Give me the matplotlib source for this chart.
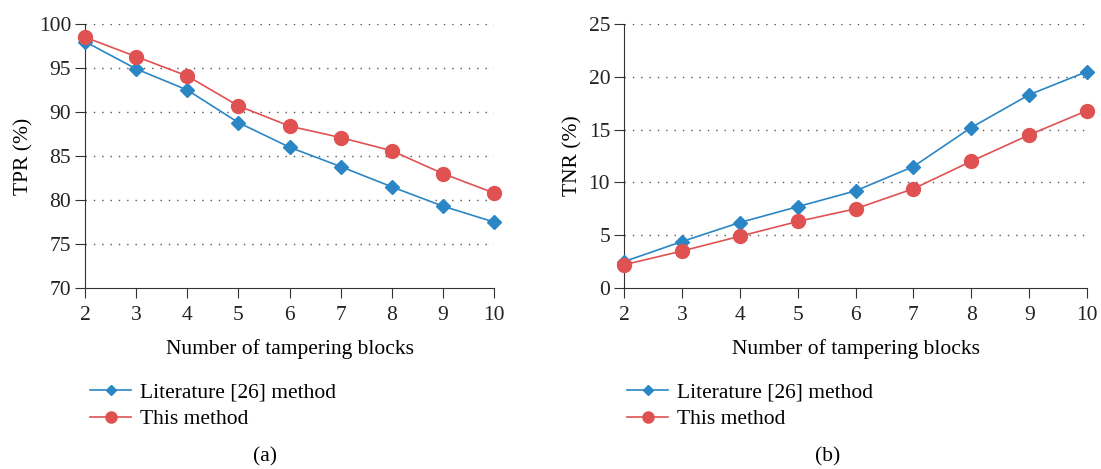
import matplotlib.pyplot as plt
import numpy as np

blocks = [2, 3, 4, 5, 6, 7, 8, 9, 10]

tpr_lit = [98.0, 94.9, 92.5, 88.8, 86.0, 83.8, 81.5, 79.3, 77.5]
tpr_ours = [98.5, 96.3, 94.1, 90.7, 88.4, 87.1, 85.6, 83.0, 80.8]

tnr_lit = [2.5, 4.4, 6.2, 7.7, 9.2, 11.5, 15.2, 18.3, 20.5]
tnr_ours = [2.2, 3.5, 4.9, 6.3, 7.5, 9.4, 12.0, 14.5, 16.8]

labels = ['Literature [26] method', 'This method']
blue = '#2b86c5'
red = '#e05252'

plt.rcParams['font.family'] = ['Liberation Serif', 'DejaVu Serif']
plt.rcParams['font.size'] = 15.5

fig = plt.figure(figsize=(11.01, 4.69), dpi=100)
ax1 = fig.add_axes([0.0772, 0.3859, 0.3715, 0.5629])
ax2 = fig.add_axes([0.5668, 0.3859, 0.4205, 0.5629])


def draw(ax, lit, ours, ylim, yticks, ylabel, caption):
    h1, = ax.plot(blocks, lit, color=blue, lw=1.2, marker='D', ms=7,
                  markeredgecolor=blue, label=labels[0], zorder=3)
    h2, = ax.plot(blocks, ours, color=red, lw=1.2, marker='o', ms=10,
                  markeredgecolor=red, label=labels[1], zorder=4)
    ax.set_xlim(2, 10)
    ax.set_ylim(*ylim)
    ax.set_xticks(blocks)
    ax.set_yticks(yticks)
    for y in yticks[1:]:
        ax.axhline(y, color='#555555', lw=1.0, ls=(0, (1, 5)), zorder=1)
    ax.spines['top'].set_visible(False)
    ax.spines['right'].set_visible(False)
    ax.spines['left'].set_color('#333333')
    ax.spines['bottom'].set_color('#333333')
    ax.tick_params(direction='out', length=7, color='#333333', labelcolor='#222222')
    ax.tick_params(axis='x', pad=6)
    ax.tick_params(axis='y', pad=3)
    ax.set_ylabel(ylabel, labelpad=4)
    ax.set_xlabel('Number of tampering blocks', labelpad=10)
    for s in ax.spines.values():
        s.set_clip_on(False)
    leg = ax.legend(handles=[h1, h2], loc='upper left', bbox_to_anchor=(-0.035, -0.285),
                    frameon=False, handlelength=1.9, handletextpad=0.4,
                    labelspacing=0.3, markerscale=0.8)
    ax.text(0.44, -0.64, caption, transform=ax.transAxes, ha='center', va='center')
    for line in [h1, h2]:
        line.set_clip_on(False)


draw(ax1, tpr_lit, tpr_ours, (70, 100), [70, 75, 80, 85, 90, 95, 100], 'TPR (%)', '(a)')
draw(ax2, tnr_lit, tnr_ours, (0, 25), [0, 5, 10, 15, 20, 25], 'TNR (%)', '(b)')

fig.savefig('out.png', dpi=100)
